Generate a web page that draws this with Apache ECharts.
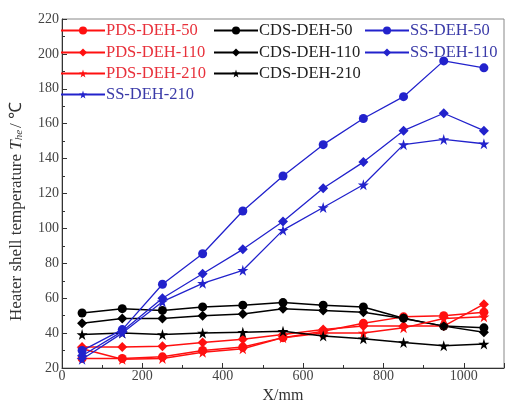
<!DOCTYPE html>
<html lang="en">
<head>
    <meta charset="UTF-8">
    <title>Heater shell temperature</title>
    <script src="https://cdn.jsdelivr.net/npm/echarts@6/dist/echarts.min.js"></script>
    <style>
        html, body { margin: 0; padding: 0; background: #fff; }
        #chart { width: 508px; height: 409px; }
    </style>
</head>
<body>
    <div id="chart"></div>
<script>
    // positions along heater, mm
    var xPos = [50, 150, 250, 350, 450, 550, 650, 750, 850, 950, 1050];

    var pds50  = [25.5, 25.5, 26.4, 30, 32, 37.4, 41, 45.6, 49.3, 50, 52];
    var pds110 = [32, 32, 32.5, 34.6, 36.5, 39.2, 42, 44, 44, 44, 56.6];
    var pds210 = [31, 25, 25.5, 29, 31, 37.4, 40, 40, 43, 48.4, 49.3];
    var cds50  = [51.5, 54, 53, 55, 56, 57.5, 56, 55, 48.5, 44, 43];
    var cds110 = [45.6, 48.4, 48.4, 50, 51, 54, 53, 52, 48.4, 44, 40.5];
    var cds210 = [39.2, 40, 39.2, 40, 40.5, 41, 38.3, 36.8, 34.6, 32.8, 33.7];
    var ss50   = [30, 42, 68, 85.5, 110, 130, 148, 163, 175.5, 196, 192];
    var ss110  = [27, 41, 60, 74, 88, 104, 123, 138, 156, 166, 156];
    var ss210  = [25, 40, 58, 68.5, 76, 99, 112, 125, 148, 151, 148.5];

    var seriesNames = ['PDS-DEH-50', 'CDS-DEH-50', 'SS-DEH-50',
                       'PDS-DEH-110', 'CDS-DEH-110', 'SS-DEH-110',
                       'PDS-DEH-210', 'CDS-DEH-210', 'SS-DEH-210'];
    var seriesData = [pds50, cds50, ss50, pds110, cds110, ss110, pds210, cds210, ss210];

    var STAR = 'path://M50,0 L61,35 L98,35 L68,57 L79,91 L50,70 L21,91 L32,57 L2,35 L39,35 Z';
    var lineColors = ['#ff1010', '#000000', '#2222cc'];
    var textColors = ['#e8303a', '#222222', '#3a3aa8'];
    var symbols = ['circle', 'diamond', STAR];
    var symSizes = [9, 10, 11];

    var series = [];
    var legends = [];
    // legend layout: [left, top] of each item, row-major like the picture
    var legendPos = [[60, 22], [213, 22], [364, 22],
                     [60, 44], [213, 44], [364, 44],
                     [60, 65], [213, 65],
                     [60, 86]];
    seriesNames.forEach(function (name, i) {
        var fam = i % 3;          // PDS / CDS / SS
        var kind = Math.floor(i / 3); // 50 / 110 / 210
        series.push({
            name: name,
            type: 'line',
            data: xPos.map(function (x, k) { return [x, seriesData[i][k]]; }),
            symbol: symbols[kind],
            symbolSize: symSizes[kind],
            showAllSymbol: true,
            lineStyle: { color: lineColors[fam], width: fam === 2 ? 1.3 : 1.5 },
            itemStyle: { color: lineColors[fam] },
            z: fam === 2 ? 3 : 2
        });
        legends.push({
            left: legendPos[i][0],
            top: legendPos[i][1],
            itemWidth: 44,
            itemHeight: 10,
            itemGap: 0,
            padding: 0,
            selectedMode: false,
            data: [{ name: name, textStyle: { color: textColors[fam] } }],
            textStyle: { fontFamily: 'Liberation Serif', fontSize: 16.5, padding: [0, 0, 0, -4] }
        });
    });

    var myChart = echarts.init(document.getElementById('chart'));
    var option = {
        animation: false,
        backgroundColor: '#fff',
        grid: {
            left: 58, right: 4, top: 19, bottom: 26,
            show: true, borderColor: '#888', borderWidth: 1
        },
        legend: legends,
        xAxis: {
            type: 'value',
            min: 0, max: 1100, interval: 200,
            name: 'X/mm',
            nameLocation: 'middle',
            nameGap: 20,
            nameTextStyle: { fontFamily: 'Liberation Serif', fontSize: 16, color: '#333' },
            axisLine: { lineStyle: { color: '#333', width: 1 } },
            axisTick: { inside: true, length: 5, lineStyle: { color: '#333' } },
            minorTick: { show: true, splitNumber: 2, length: 3, lineStyle: { color: '#333' } },
            axisLabel: {
                margin: 1, fontFamily: 'Liberation Serif', fontSize: 14, color: '#444',
                formatter: function (v) { return v > 1050 ? '' : v; }
            },
            splitLine: { show: false }
        },
        yAxis: {
            type: 'value',
            min: 20, max: 220, interval: 20,
            name: '{a|Heater shell temperature }{t|T}{s|he}{a|/ ℃}',
            nameLocation: 'middle',
            nameRotate: 90,
            nameGap: 37,
            nameTextStyle: {
                color: '#333',
                padding: [0, 36, 0, 0],
                rich: {
                    a: { fontFamily: 'Liberation Serif', fontSize: 17, color: '#333' },
                    t: { fontFamily: 'Liberation Serif', fontSize: 17, fontStyle: 'italic', color: '#333' },
                    s: { fontFamily: 'Liberation Serif', fontSize: 11, fontStyle: 'italic', color: '#333', verticalAlign: 'bottom', padding: [6, 2, 0, 0] }
                }
            },
            axisLine: { show: true, lineStyle: { color: '#333', width: 1 } },
            axisTick: { inside: true, length: 5, lineStyle: { color: '#333' } },
            minorTick: { show: true, splitNumber: 2, length: 3, lineStyle: { color: '#333' } },
            axisLabel: { margin: 3, fontFamily: 'Liberation Serif', fontSize: 14, color: '#444' },
            splitLine: { show: false }
        },
        series: series
    };
    myChart.setOption(option);
</script>
</body>
</html>
